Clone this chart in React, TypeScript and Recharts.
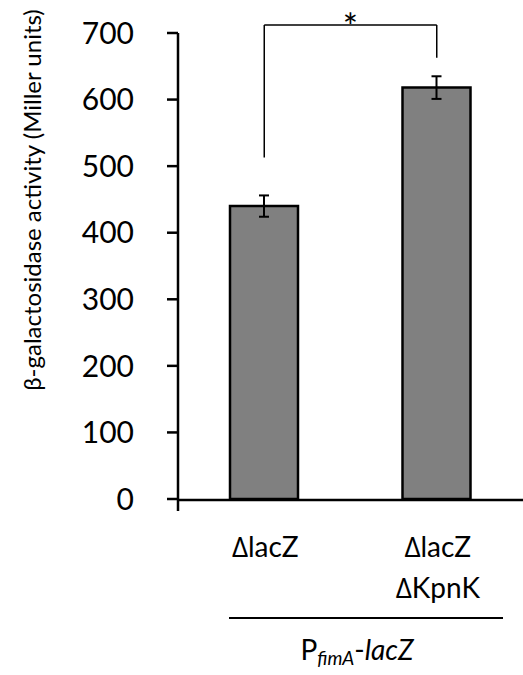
import React from 'react';
import { BarChart, Bar, XAxis, YAxis, ErrorBar, ReferenceLine } from 'recharts';

const FONT = "Lato, 'Open Sans', sans-serif";

// strains (x categories), \n splits the label over two lines
const strains = ['\u2206lacZ', '\u2206lacZ\n\u2206KpnK'];
const activity = [440, 618];
const sem = [16, 17];
const yTicks = [0, 100, 200, 300, 400, 500, 600, 700];
const edgeTicks = [0, 1, 2];
// significance bracket: leg bottoms for each bar, and the bar's top
const bracketLegs = [513, 663];
const bracketTop = 712;

const data = strains.map((s, i) => ({ strain: s, activity: activity[i], err: sem[i] }));

const YTitle = (props: any) => {
  const vb = props.viewBox;
  const cx = vb.x + 31;
  const cy = vb.y + 167;
  return (
    <text x={cx} y={cy} transform={`rotate(-90 ${cx} ${cy})`} textAnchor="middle"
      dominantBaseline="central" fontFamily={FONT} fontSize={24} fill="#000">
      β-galactosidase activity (Miller units)
    </text>
  );
};

const StrainTick = (props: any) => {
  const { x, y, payload } = props;
  const lines = String(payload.value).split('\n');
  return (
    <g>
      {lines.map((l, i) => (
        <text key={i} x={x + 1} y={y + 47 + i * 41} textAnchor="middle" dominantBaseline="central"
          fontFamily={FONT} fontSize={28} fill="#000">{l}</text>
      ))}
    </g>
  );
};

const NoLabel = () => <g />;

const GroupLabel = (props: any) => {
  const vb = props.viewBox;
  const cx = vb.x + 179;
  return (
    <g>
      <line x1={vb.x + 51} x2={vb.x + 325} y1={vb.y + 119} y2={vb.y + 119} stroke="#000" strokeWidth={2} />
      <text x={cx} y={vb.y + 150} textAnchor="middle" dominantBaseline="central"
        fontFamily={FONT} fontSize={28} fill="#000">
        <tspan>P</tspan>
        <tspan fontSize={19} fontStyle="italic" dy={8}>fimA</tspan>
        <tspan dy={-8}>-</tspan>
        <tspan fontStyle="italic">lacZ</tspan>
      </text>
    </g>
  );
};

const Star = (props: any) => {
  const vb = props.viewBox;
  const cx = vb.x + vb.width / 2;
  return (
    <text x={cx} y={vb.y + 1} textAnchor="middle" dominantBaseline="central"
      fontFamily={FONT} fontSize={36} fill="#000">*</text>
  );
};

export default function App() {
  return (
    <div style={{ position: 'absolute', left: 0, top: 0, background: '#fff' }}>
      <BarChart width={523} height={675} data={data}
        margin={{ top: 33, right: 0, left: 0, bottom: 174 }} barCategoryGap={0}>
        <XAxis xAxisId="edge" type="number" domain={[0, 2]} ticks={edgeTicks} height={1}
          tick={<NoLabel />} tickSize={11} axisLine={{ stroke: '#000', strokeWidth: 2.5 }}
          tickLine={{ stroke: '#000', strokeWidth: 2.5 }} />
        <XAxis xAxisId="cat" dataKey="strain" height={1} axisLine={false} tickLine={false}
          tickSize={0} tickMargin={0} interval={0} tick={<StrainTick />}
          label={{ content: <GroupLabel /> }} />
        <YAxis width={178} domain={[0, 700]} ticks={yTicks} tickSize={11} tickMargin={33}
          axisLine={{ stroke: '#000', strokeWidth: 2.5 }} tickLine={{ stroke: '#000', strokeWidth: 2.5 }}
          tick={{ fill: '#000', fontSize: 30, fontFamily: FONT }}
          label={{ content: <YTitle /> }} />
        <Bar xAxisId="cat" dataKey="activity" barSize={68} fill="#808080" stroke="#000"
          strokeWidth={2.5} isAnimationActive={false}>
          <ErrorBar dataKey="err" width={5} stroke="#000" strokeWidth={2} direction="y" />
        </Bar>
        <ReferenceLine xAxisId="cat" ifOverflow="visible" stroke="#000" strokeWidth={1.5}
          segment={[{ x: strains[0], y: bracketLegs[0] }, { x: strains[0], y: bracketTop }]} />
        <ReferenceLine xAxisId="cat" ifOverflow="visible" stroke="#000" strokeWidth={1.5}
          segment={[{ x: strains[1], y: bracketLegs[1] }, { x: strains[1], y: bracketTop }]} />
        <ReferenceLine xAxisId="cat" ifOverflow="visible" stroke="#000" strokeWidth={1.5}
          segment={[{ x: strains[0], y: bracketTop }, { x: strains[1], y: bracketTop }]}
          label={{ content: <Star /> }} />
      </BarChart>
    </div>
  );
}
